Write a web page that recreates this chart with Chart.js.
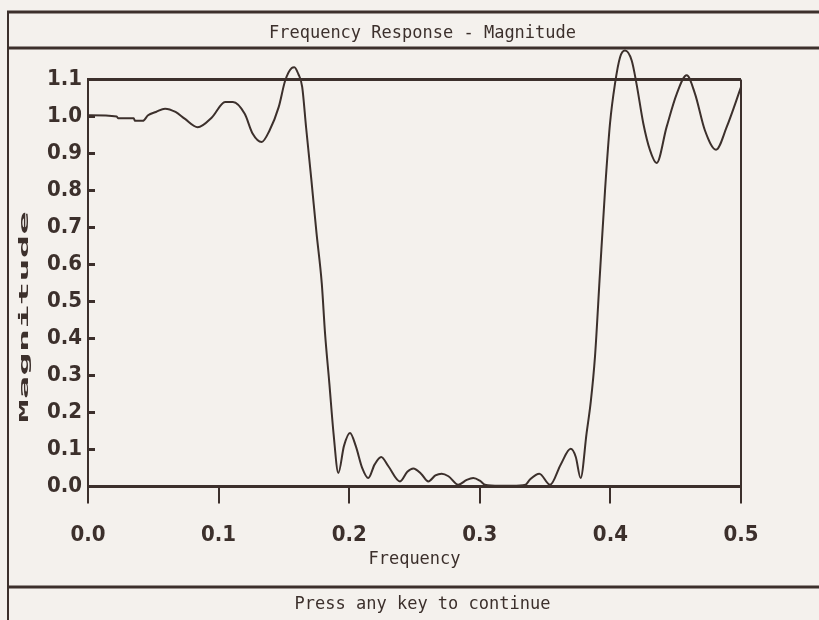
<!DOCTYPE html>
<html>
<head>
<meta charset="utf-8">
<title>Frequency Response - Magnitude</title>
<script src="https://cdn.jsdelivr.net/npm/chart.js@4.4.1/dist/chart.umd.min.js"></script>
<style>
  html, body { margin: 0; padding: 0; background: #f4f1ed; overflow: hidden; }
  #wrap { position: relative; width: 819px; height: 620px; }
</style>
</head>
<body>
<div id="wrap"><canvas id="chart"></canvas></div>
<script>
// normalised frequency (cycles/sample) and |H(f)|
const frequency = [
  0.000, 0.022, 0.023, 0.035, 0.036, 0.042, 0.046, 0.052, 0.059, 0.067,
  0.074, 0.084, 0.095, 0.105, 0.111, 0.120, 0.126, 0.133, 0.139, 0.146,
  0.151, 0.156, 0.158, 0.161, 0.164, 0.167, 0.171, 0.175, 0.179, 0.1815,
  0.1848, 0.188, 0.1917, 0.196, 0.2006, 0.205, 0.210, 0.2146, 0.2195, 0.2245,
  0.230, 0.2389, 0.2445, 0.2491, 0.255, 0.2606, 0.266, 0.2708, 0.276, 0.2835,
  0.290, 0.295, 0.300, 0.304, 0.315, 0.325, 0.335, 0.3384, 0.3456, 0.3538,
  0.362, 0.3696, 0.3735, 0.3772, 0.3818, 0.385, 0.3882, 0.392, 0.3959, 0.3997,
  0.4035, 0.4074, 0.4112, 0.4163, 0.420, 0.4252, 0.4303, 0.4354, 0.443, 0.4508,
  0.4584, 0.4648, 0.4724, 0.4809, 0.489, 0.500
];
const magnitude = [
  1.003, 1.000, 0.995, 0.995, 0.988, 0.988, 1.003, 1.012, 1.021, 1.012,
  0.994, 0.971, 0.998, 1.039, 1.039, 1.007, 0.954, 0.931, 0.962, 1.025,
  1.097, 1.131, 1.133, 1.115, 1.080, 0.970, 0.830, 0.684, 0.549, 0.414,
  0.279, 0.144, 0.037, 0.110, 0.145, 0.110, 0.050, 0.023, 0.060, 0.080,
  0.055, 0.014, 0.040, 0.049, 0.035, 0.014, 0.030, 0.035, 0.028, 0.005,
  0.018, 0.023, 0.016, 0.005, 0.002, 0.002, 0.005, 0.019, 0.035, 0.005,
  0.060, 0.102, 0.080, 0.023, 0.145, 0.230, 0.351, 0.576, 0.801, 0.981,
  1.088, 1.160, 1.178, 1.151, 1.088, 0.981, 0.909, 0.874, 0.971, 1.061,
  1.111, 1.061, 0.962, 0.910, 0.971, 1.079
];
const freqTicks = [0, 0.1, 0.2, 0.3, 0.4, 0.5];
const magTicks = [0, 0.1, 0.2, 0.3, 0.4, 0.5, 0.6, 0.7, 0.8, 0.9, 1.0, 1.1];

const INK = '#3c302c';
const PAPER = '#f4f1ed';
const MONO = '"DejaVu Sans Mono", monospace';
const TICK_FAMILY = '"DejaVu Sans Condensed", "DejaVu Sans Mono", sans-serif';

const near = (a, b) => Math.abs(a - b) < 1e-6;

// screen frame lines and the stretched vertical caption
const screenFrame = {
  id: 'screenFrame',
  beforeDraw(chart) {
    const ctx = chart.ctx;
    const w = chart.width;
    ctx.save();
    ctx.fillStyle = PAPER;
    ctx.fillRect(0, 0, w, chart.height);
    ctx.strokeStyle = INK;
    ctx.lineWidth = 3;
    [12, 48, 587].forEach(y => {
      ctx.beginPath();
      ctx.moveTo(7, y);
      ctx.lineTo(w, y);
      ctx.stroke();
    });
    ctx.lineWidth = 2;
    ctx.beginPath();
    ctx.moveTo(8, 11);
    ctx.lineTo(8, chart.height);
    ctx.stroke();
    ctx.restore();
  },
  afterDraw(chart) {
    const ctx = chart.ctx;
    ctx.save();
    ctx.translate(25, 317);
    ctx.rotate(-Math.PI / 2);
    ctx.scale(3, 1);
    ctx.fillStyle = INK;
    ctx.font = 'bold 13px ' + MONO;
    ctx.textAlign = 'center';
    ctx.textBaseline = 'middle';
    ctx.fillText('Magnitude', 0, 0);
    ctx.restore();
  }
};

new Chart(document.getElementById('chart'), {
  type: 'line',
  data: {
    datasets: [{
      data: frequency.map((f, i) => ({ x: f, y: magnitude[i] })),
      borderColor: INK,
      borderWidth: 2,
      pointRadius: 0,
      cubicInterpolationMode: 'monotone',
      clip: false
    }]
  },
  options: {
    responsive: true,
    maintainAspectRatio: false,
    animation: false,
    layout: { padding: { left: 26, right: 0, top: 0, bottom: 0 } },
    plugins: {
      legend: { display: false },
      tooltip: { enabled: false },
      title: {
        display: true,
        text: 'Frequency Response - Magnitude',
        color: INK,
        font: { family: MONO, size: 17, weight: 'normal', lineHeight: 1.2 },
        padding: { top: 23, bottom: 36 }
      },
      subtitle: {
        display: true,
        position: 'bottom',
        text: 'Press any key to continue',
        color: INK,
        font: { family: MONO, size: 17, weight: 'normal', lineHeight: 1.2 },
        padding: { top: 15, bottom: 5 }
      }
    },
    scales: {
      x: {
        type: 'linear',
        min: 0,
        max: 0.5,
        afterBuildTicks: s => { s.ticks = freqTicks.map(v => ({ value: v })); },
        afterFit: s => { s.height = 93; },
        border: { display: true, color: INK, width: 3 },
        grid: {
          drawOnChartArea: true,
          color: c => (c.tick && near(c.tick.value, 0.5)) ? INK : 'rgba(0,0,0,0)',
          lineWidth: 2,
          tickColor: INK,
          tickWidth: 2,
          tickLength: 17
        },
        ticks: {
          color: INK,
          padding: 21,
          maxRotation: 0,
          font: { family: TICK_FAMILY, size: 22, weight: 'bold', lineHeight: 1.0 },
          callback: v => v.toFixed(1)
        },
        title: {
          display: true,
          text: 'Frequency',
          color: INK,
          font: { family: MONO, size: 17, weight: 'normal', lineHeight: 1.2 },
          padding: { top: 0, bottom: 10 }
        }
      },
      y: {
        type: 'linear',
        min: 0,
        max: 1.1,
        afterBuildTicks: s => { s.ticks = magTicks.map(v => ({ value: v })); },
        afterFit: s => { s.width = 62; },
        border: { display: true, color: INK, width: 2 },
        grid: {
          drawOnChartArea: true,
          color: c => (c.tick && (near(c.tick.value, 1.1) || near(c.tick.value, 0))) ? INK : 'rgba(0,0,0,0)',
          lineWidth: 3,
          tickColor: INK,
          tickWidth: 3,
          tickLength: -7
        },
        ticks: {
          color: INK,
          padding: 13,
          font: { family: TICK_FAMILY, size: 22, weight: 'bold', lineHeight: 1.0 },
          callback: v => v.toFixed(1)
        }
      },
      yR: {
        type: 'linear',
        position: 'right',
        min: 0,
        max: 1.1,
        afterFit: s => { s.width = 78; },
        border: { display: false },
        grid: { display: false },
        ticks: { display: false }
      }
    }
  },
  plugins: [screenFrame]
});
</script>
</body>
</html>
